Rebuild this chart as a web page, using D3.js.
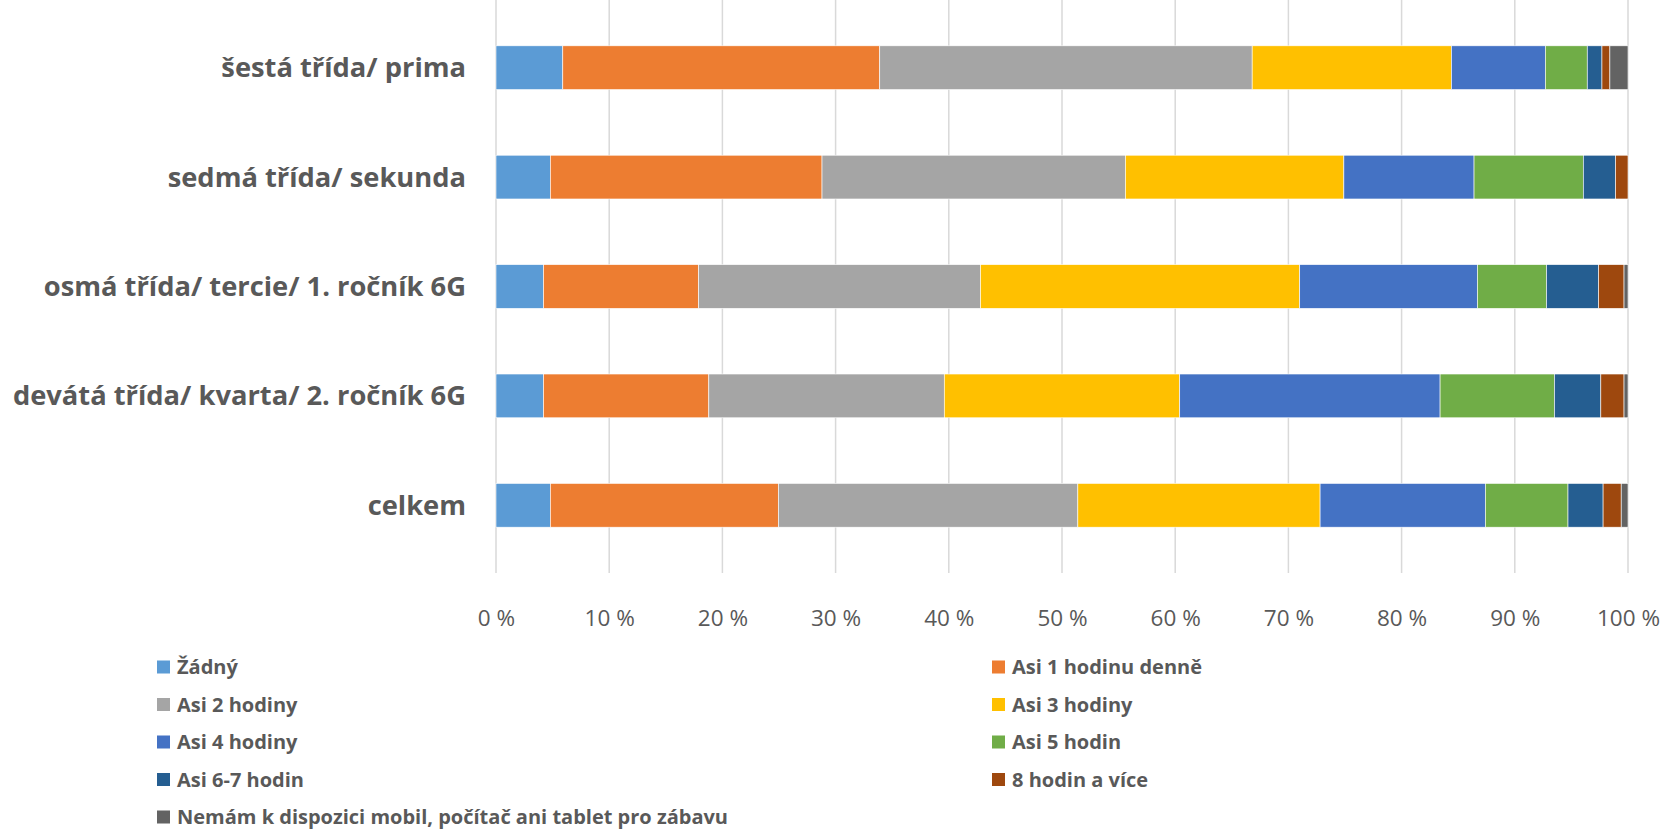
<!DOCTYPE html>
<html><head><meta charset="utf-8">
<script src="https://cdn.jsdelivr.net/npm/d3@7"></script>
<style>
html,body{margin:0;padding:0;background:#fff;}
svg{display:block;font-family:"Open Sans",sans-serif;}
</style></head>
<body><svg id="c" width="1662" height="829"></svg>
<script>
const categories = ["šestá třída/ prima","sedmá třída/ sekunda","osmá třída/ tercie/ 1. ročník 6G","devátá třída/ kvarta/ 2. ročník 6G","celkem"];
const seriesNames = ["Žádný","Asi 1 hodinu denně","Asi 2 hodiny","Asi 3 hodiny","Asi 4 hodiny","Asi 5 hodin","Asi 6-7 hodin","8 hodin a více","Nemám k dispozici mobil, počítač ani tablet pro zábavu"];
const seriesColors = ["#5B9BD5","#ED7D31","#A5A5A5","#FFC000","#4472C4","#70AD47","#255E91","#9E480E","#636363"];
// values per series, one per category (percent)
const zadny   = [5.9, 4.8, 4.2, 4.2, 4.8];
const hod1    = [28.0, 24.0, 13.7, 14.6, 20.15];
const hod2    = [32.9, 26.8, 24.9, 20.8, 26.45];
const hod3    = [17.6, 19.3, 28.2, 20.8, 21.4];
const hod4    = [8.3, 11.5, 15.7, 23.0, 14.6];
const hod5    = [3.7, 9.65, 6.1, 10.1, 7.3];
const hod67   = [1.3, 2.85, 4.6, 4.1, 3.1];
const hod8    = [0.7, 1.1, 2.25, 2.05, 1.6];
const nemam   = [1.6, 0.0, 0.35, 0.35, 0.6];
const tickValues = [0,10,20,30,40,50,60,70,80,90,100];
const tickLabels = ["0 %","10 %","20 %","30 %","40 %","50 %","60 %","70 %","80 %","90 %","100 %"];

const seriesValues = [zadny,hod1,hod2,hod3,hod4,hod5,hod67,hod8,nemam];
const rows = categories.map((c,i)=>{
  const o = {cat:c};
  seriesNames.forEach((s,j)=>{ o[s] = seriesValues[j][i]; });
  return o;
});
const stack = d3.stack().keys(seriesNames)(rows);

const svg = d3.select("#c");
const x = d3.scaleLinear().domain([0,100]).range([496,1628]);
const y = d3.scaleBand().domain(categories).range([13,560]).paddingInner(0.6).paddingOuter(0.3);

// gridlines
svg.append("g").selectAll("line").data(tickValues).join("line")
  .attr("x1",d=>x(d)).attr("x2",d=>x(d)).attr("y1",0).attr("y2",573)
  .attr("stroke","#d9d9d9").attr("stroke-width",1.5);

// bars
svg.append("g").selectAll("g").data(stack).join("g")
  .attr("fill",(d,i)=>seriesColors[i])
  .selectAll("rect").data(d=>d).join("rect")
  .attr("x",d=>x(d[0])).attr("width",d=>Math.max(0,x(d[1])-x(d[0])))
  .attr("y",d=>y(d.data.cat)).attr("height",y.bandwidth())
  .attr("stroke","#fff").attr("stroke-width",0.6);

// x axis labels
const xa = svg.append("g")
  .call(d3.axisBottom(x).tickValues(tickValues).tickFormat((d,i)=>tickLabels[i]).tickSize(0));
xa.select(".domain").remove();
xa.selectAll("text").attr("y",618).attr("dy","0.35em")
  .attr("fill","#595959").style("font-size","22.5px").style("font-family","Open Sans");

// category labels
const ya = svg.append("g").attr("transform","translate(466,0)")
  .call(d3.axisLeft(y).tickSize(0).tickPadding(0));
ya.select(".domain").remove();
ya.selectAll("text").attr("fill","#595959").attr("dy","0.35em")
  .style("font-size","27.3px").style("font-weight","bold").style("font-family","Open Sans");

// legend
const lg = svg.append("g");
seriesNames.forEach((s,i)=>{
  const col = i%2, row = Math.floor(i/2);
  const lx = col===0 ? 157 : 992;
  const ly = 667 + row*37.5;
  lg.append("rect").attr("x",lx).attr("y",ly-6.5).attr("width",13).attr("height",13).attr("fill",seriesColors[i]);
  lg.append("text").attr("x",lx+20).attr("y",ly).attr("dy","0.35em")
    .attr("fill","#595959").style("font-size","20px").style("font-weight","bold").text(s);
});
</script></body></html>
